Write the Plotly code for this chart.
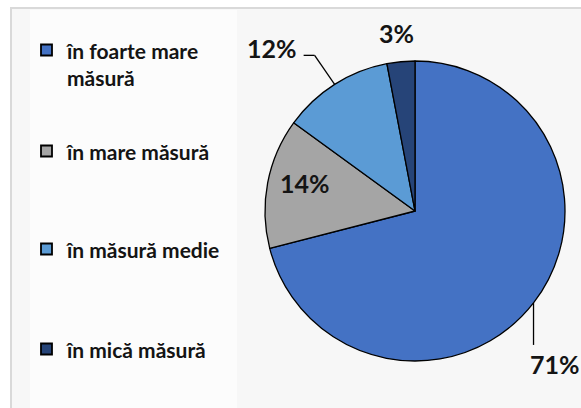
import math

import plotly.graph_objects as go

# данные
categories = ["în foarte mare măsură", "în mare măsură", "în măsură medie", "în mică măsură"]
legend_labels = ["în foarte mare<br>măsură", "în mare măsură", "în măsură medie", "în mică măsură"]
values = [71, 14, 12, 3]
colors = ["#4472C4", "#A5A5A5", "#5B9BD5", "#264478"]

W, H = 581, 408
CX, CY, R = 415, 211, 150  # pie centre / radius in px
FONT = "Lato"
INK = "#141414"


def _px(x: float, y: float) -> tuple[float, float]:
    return x / W, 1 - y / H


def _edge_point(i: int) -> tuple[float, float]:
    """Point on the rim at the middle angle of slice i (clockwise from 12 o'clock)."""
    total = sum(values)
    mid = math.radians((sum(values[:i]) + values[i] / 2) / total * 360)
    return CX + R * math.sin(mid), CY - R * math.cos(mid)


fig = go.Figure(
    go.Pie(
        labels=categories,
        values=values,
        sort=False,
        direction="clockwise",
        rotation=0,
        marker=dict(colors=colors, line=dict(color="#000000", width=1.3)),
        textinfo="none",
        hoverinfo="label+percent",
        showlegend=False,
        domain=dict(x=[(CX - R) / W, (CX + R) / W], y=[1 - (CY + R) / H, 1 - (CY - R) / H]),
    )
)

shapes = [
    # chart area frame
    dict(type="rect", xref="paper", yref="paper", x0=11 / W, x1=1.01, y0=-0.01, y1=1 - 8 / H,
         line=dict(color="#d9d9d9", width=2), fillcolor="#f7f7f7", layer="below"),
    dict(type="rect", xref="paper", yref="paper", x0=30 / W, x1=237 / W, y0=-0.01, y1=1 - 10 / H,
         line=dict(width=0), fillcolor="#fcfcfc", layer="below"),
]

# data labels: offsets (px) from the rim point of each slice
label_offsets = [(-6, 61, "left"), (37, 0, "center"), (-36, -36, "right"), (-4, -29, "center")]
annotations = []
for i, v in enumerate(values):
    ex, ey = _edge_point(i)
    dx, dy, anchor = label_offsets[i]
    ax, ay = _px(ex + dx, ey + dy)
    annotations.append(dict(
        x=ax, y=ay, xref="paper", yref="paper", text=f"{v}%", showarrow=False,
        xanchor=anchor, yanchor="middle",
        font=dict(family=FONT, size=25, color=INK, weight="bold"),
    ))

# leader lines for 71% and 12%
ex, ey = _edge_point(0)
x0, y0 = _px(ex, ey)
x1, y1 = _px(ex, ey + 42)
shapes.append(dict(type="line", xref="paper", yref="paper", x0=x0, y0=y0, x1=x1, y1=y1,
                   line=dict(color="#000000", width=1.3)))
ex, ey = _edge_point(2)
pts = [_px(ex, ey), _px(ex - 20, ey - 29), _px(ex - 31, ey - 29)]
for (a, b), (c, d) in zip(pts[:-1], pts[1:]):
    shapes.append(dict(type="line", xref="paper", yref="paper", x0=a, y0=b, x1=c, y1=d,
                       line=dict(color="#000000", width=1.3)))

# legend
legend_y = [50, 151, 249, 349]
for lbl, col, ly in zip(legend_labels, colors, legend_y):
    sx0, sy0 = _px(41, ly - 5.5)
    sx1, sy1 = _px(52, ly + 5.5)
    shapes.append(dict(type="rect", xref="paper", yref="paper", x0=sx0, y0=sy1, x1=sx1, y1=sy0,
                       fillcolor=col, line=dict(color="#000000", width=1.8)))
    tx, ty = _px(64, ly - 14)
    annotations.append(dict(
        x=tx, y=ty, xref="paper", yref="paper", text=lbl, showarrow=False,
        xanchor="left", yanchor="top", align="left",
        font=dict(family=FONT, size=21, color=INK, weight="bold"),
    ))

fig.update_layout(
    width=W,
    height=H,
    margin=dict(l=0, r=0, t=0, b=0),
    paper_bgcolor="#ffffff",
    shapes=shapes,
    annotations=annotations,
)

fig.write_html(
    "out.html",
    config={"displayModeBar": False},
    post_script="document.body.style.margin = '0';",
)
